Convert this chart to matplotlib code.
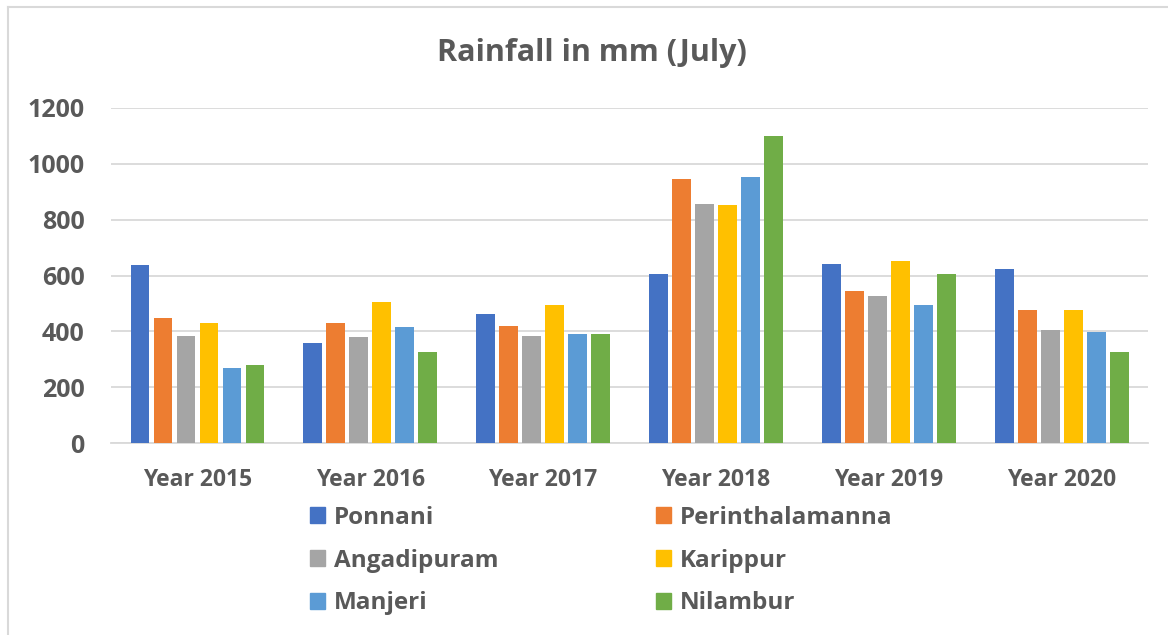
import matplotlib.pyplot as plt
import matplotlib.patches as mpatches
import numpy as np

plt.rcParams['font.family'] = ['Open Sans', 'DejaVu Sans']
plt.rcParams['font.weight'] = 'bold'

years = ['Year 2015', 'Year 2016', 'Year 2017', 'Year 2018', 'Year 2019', 'Year 2020']
stations = ['Ponnani', 'Perinthalamanna', 'Angadipuram', 'Karippur', 'Manjeri', 'Nilambur']
colors = ['#4472C4', '#ED7D31', '#A5A5A5', '#FFC000', '#5B9BD5', '#70AD47']

ponnani = [639, 360, 464, 606, 643, 624]
perinthalamanna = [448, 431, 420, 945, 546, 477]
angadipuram = [382, 380, 382, 858, 526, 406]
karippur = [431, 506, 496, 852, 652, 476]
manjeri = [269, 417, 392, 954, 493, 398]
nilambur = [280, 326, 390, 1098, 605, 327]
series = [ponnani, perinthalamanna, angadipuram, karippur, manjeri, nilambur]

txt = '#595959'
grid = '#D9D9D9'

fig = plt.figure(figsize=(11.68, 6.35), dpi=100)
ax = fig.add_axes([0.095, 0.302, 0.888, 0.528])

x = np.arange(len(years))
pitch = 0.133
bw = 0.108
for i, vals in enumerate(series):
    ax.bar(x + (i - 2.5) * pitch, vals, width=bw, color=colors[i], zorder=3)

ax.set_xlim(-0.5, len(years) - 0.5)
ax.set_ylim(0, 1200)
ax.set_yticks(np.arange(0, 1201, 200))
ax.set_xticks(x)
ax.set_xticklabels(years)
ax.yaxis.grid(True, color=grid, linewidth=1.3, zorder=0)
ax.set_axisbelow(True)
for s in ['top', 'right', 'left']:
    ax.spines[s].set_visible(False)
ax.spines['bottom'].set_color(grid)
ax.spines['bottom'].set_linewidth(1.3)
ax.tick_params(axis='y', length=0, pad=19, labelsize=18, labelcolor=txt)
ax.tick_params(axis='x', length=0, pad=18, labelsize=16.5, labelcolor=txt)

fig.text(0.507, 0.916, 'Rainfall in mm (July)', ha='center', va='center',
         fontsize=22, fontweight='bold', color=txt)

order = [0, 2, 4, 1, 3, 5]
handles = [mpatches.Patch(color=colors[i]) for i in order]
labels = [stations[i] for i in order]
leg = fig.legend(handles, labels, ncol=2, loc='upper left',
                 bbox_to_anchor=(0.255, 0.223), frameon=False,
                 prop={'size': 17.5, 'weight': 'bold'},
                 handlelength=0.62, handleheight=0.62, handletextpad=0.38,
                 labelspacing=0.78, columnspacing=6.45, borderpad=0)
for t in leg.get_texts():
    t.set_color(txt)

# chart area border (left and top visible)
fig.add_artist(plt.Line2D([0.0065, 0.0065], [0, 0.989], color=grid, linewidth=1.5,
                          transform=fig.transFigure))
fig.add_artist(plt.Line2D([0.0065, 1.0], [0.989, 0.989], color=grid, linewidth=1.5,
                          transform=fig.transFigure))

fig.savefig('out.png', dpi=100)
